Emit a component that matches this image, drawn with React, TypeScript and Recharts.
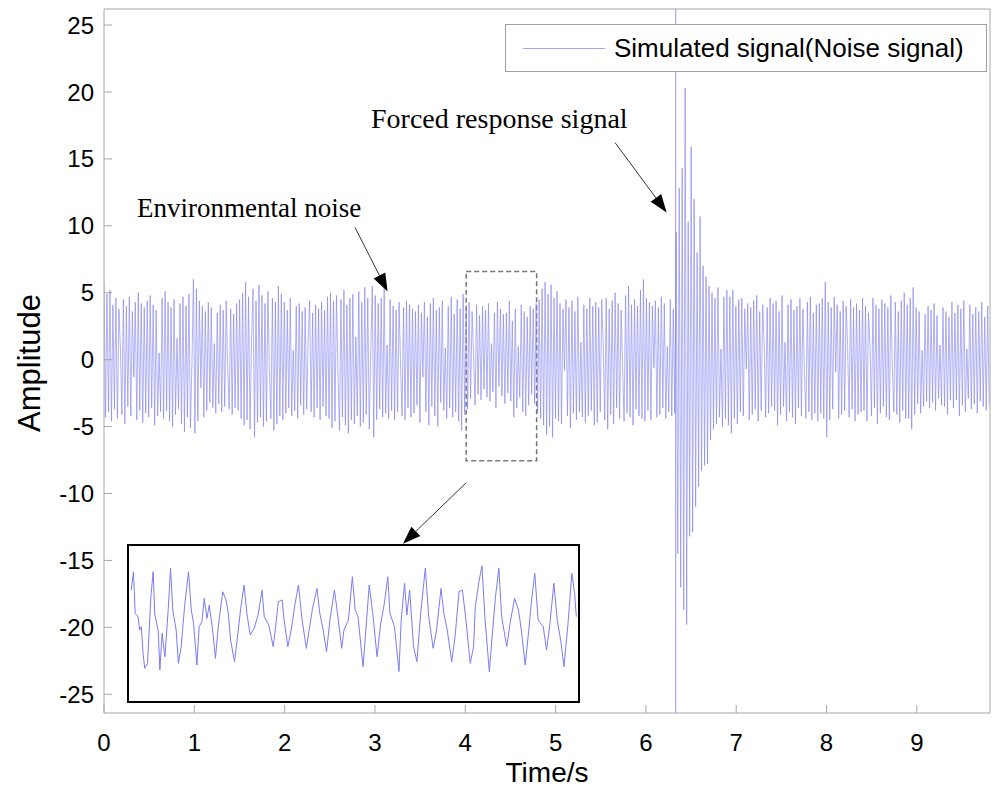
import React from 'react';
import {
  LineChart,
  Line,
  XAxis,
  YAxis,
  ReferenceLine,
  ReferenceArea,
  Legend,
} from 'recharts';

// sampling step of the simulated record (s)
const DT = 0.0165;

// amplitude, one value per sample (30 samples ~ 0.5 s per row)
const signal = [
  5.8, -4.3, 4.9, -3.9, 5.2, -4.6, 4.1, -3.7, 4.6, -4.4, 3.8, 0.9, -4.1, 4.5, -4.8, 4.0, -3.5, 4.7, -4.2, 3.6, -1.3, 4.3, -4.5, 5.0, -3.8, 4.2, -4.7, 3.9, -4.0, 4.4,
  -4.3, 4.8, -3.6, 4.1, -4.9, 3.7, -4.2, 0.5, -3.9, 4.6, -4.4, 5.1, -3.8, 4.3, -4.6, 3.9, -5.0, 4.5, -4.1, 1.6, -3.7, 4.2, -4.8, 4.7, -5.4, 4.0, -4.3, 4.9, -5.1, -0.4,
  6.0, -5.5, 5.3, -4.6, 4.4, -2.1, 4.0, -4.3, 3.6, -3.8, 4.3, -3.2, 3.9, -3.6, 1.2, -4.0, 3.5, -3.3, 4.1, -3.9, 3.7, -3.5, 4.4, -0.6, -3.7, 3.8, -4.1, 3.4, -3.6, 4.2,
  -3.8, 4.5, -4.4, 5.0, -4.9, 5.8, -4.5, 4.7, -5.2, 1.4, 5.3, -5.8, 4.4, -4.7, 5.6, -4.3, 4.8, -5.0, 4.2, -4.6, 5.1, -0.8, -4.4, 4.6, -5.3, 4.3, -4.8, 5.5, -4.2, 4.9,
  -4.5, 4.3, -4.0, 3.7, -3.6, 4.6, -4.2, 0.7, -3.8, 4.0, -4.4, 4.2, -3.4, 3.6, -4.1, 3.9, -3.7, 1.5, 4.4, -3.9, 3.5, -4.3, 4.1, -3.6, 3.8, -4.5, 4.3, -3.5, 3.7, -4.2,
  4.7, -4.4, 5.0, -5.1, 4.4, -4.6, 4.8, -0.9, -5.3, 4.5, -4.3, 5.2, -4.9, 4.1, -5.5, 4.6, -4.5, 4.9, -4.8, 1.7, -4.2, 5.1, -5.0, 4.3, -4.7, 5.4, -4.1, 4.6, -5.2, 0.6,
  5.5, -5.8, 4.8, -4.5, 4.2, -3.7, 4.6, -4.3, 5.3, -4.0, 1.1, -4.4, 4.5, -3.8, 4.0, -4.5, 3.7, -3.9, 4.3, -0.4, -4.2, 3.9, -4.5, 4.4, -3.6, 4.1, -4.3, 3.8, -4.0, 3.6,
  -3.4, 4.1, -4.7, 3.5, -1.3, 4.3, -3.9, 3.2, -4.9, 4.2, -3.5, 4.6, -4.2, 3.7, -5.0, 3.9, -3.2, 4.4, -3.8, 0.9, -4.4, 4.0, -3.6, 4.7, -4.3, 3.4, -3.9, 4.5, -4.6, 3.8,
  -5.3, 4.9, -4.1, 3.9, -3.7, 4.3, -2.9, 3.6, 0.3, -3.4, 4.1, -2.6, 3.3, -3.0, 4.0, -2.2, 3.7, -2.8, 4.2, -3.1, 1.2, -2.4, 3.5, -3.6, 4.3, -2.0, 3.8, -2.7, 3.4, -3.3,
  3.5, -2.5, 4.4, -3.1, 2.9, -4.3, 3.8, -3.6, 1.0, -2.8, 4.1, -3.9, 3.6, -4.2, 3.2, -3.4, 4.0, -2.6, 3.8, -3.3, 4.2, -4.0, 4.5, -4.4, 5.3, -4.9, 5.8, -5.6, 4.9, -5.0,
  5.6, -5.8, 4.6, -4.4, 5.1, -4.6, 4.2, -4.8, 3.8, -0.8, 4.5, -4.2, 3.9, -5.1, 4.4, -4.0, 3.6, -4.5, 4.7, -3.9, 1.3, -4.3, 4.1, -4.7, 3.8, -4.2, 4.6, -3.8, 4.0, -4.9,
  4.3, -4.7, 3.9, -3.9, 4.5, 1.1, -4.5, 4.6, -5.2, 3.8, -4.1, 4.4, -4.8, 5.0, -3.6, 4.2, -4.4, 3.7, -0.5, -4.6, 4.8, -4.0, 5.5, -4.3, 4.1, -4.9, 4.5, -3.7, 4.0, -4.2,
  // forced response begins at ~6.33 s
  5.2, -4.4, 6.0, -4.6, 4.6, -3.8, 4.3, -4.5, 4.0, -0.6, 4.4, -4.3, 3.9, -4.1, 4.7, -3.6, 4.2, -4.4, 1.0, -3.9, 4.5, -4.2, 3.8, -4.0, 9.5, -14.5, 12.8, -17.0, 14.3, -18.7,
  20.3, -19.8, 10.3, -13.2, 15.9, -12.9, 12.0, -11.0, 8.0, -9.5, 10.7, -8.3, 7.0, -7.9, 6.2, -7.8, 5.5, -6.0, 5.0, -5.2, 4.6, -4.8, 5.4, -4.3, 0.8, -5.0, 4.7, -4.4, 5.2, -4.9,
  4.7, -5.5, 5.2, -4.4, 4.0, -4.8, 4.5, -3.9, 4.6, -4.2, 3.8, -0.7, 4.2, -4.5, 3.9, -4.1, 4.4, -3.7, 4.8, -4.6, 3.6, -3.8, 4.1, 1.2, -4.3, 3.9, -4.0, 4.6, -3.5, 4.2,
  -3.8, 4.4, -4.9, 3.6, -4.1, 4.8, -3.5, 1.3, -4.6, 4.1, -3.9, 4.5, -4.3, 3.7, -4.8, 4.0, -3.6, 4.6, -4.2, 3.8, -0.9, -4.4, 4.3, -3.9, 4.7, -4.5, 3.5, -4.0, 4.1, -4.6,
  4.2, -4.0, 4.6, -4.4, 5.8, -5.8, 4.3, -4.5, 3.9, -3.7, 4.7, -0.9, 4.1, -4.4, 3.6, -4.1, 4.4, -3.8, 4.0, 1.0, -4.3, 4.5, -3.7, 3.9, -4.6, 4.2, -4.1, 3.7, -3.9, 4.6,
  -3.8, 4.0, -4.6, 3.5, 1.1, -4.2, 4.6, -3.6, 4.1, -4.8, 3.8, -4.0, 4.5, -3.5, 4.2, -4.3, 3.9, -4.5, 4.8, -0.6, -3.9, 4.3, -4.1, 3.6, -4.7, 4.4, -3.8, 5.0, -4.4, 4.1,
  -4.4, 4.6, -5.2, 5.4, -4.1, 3.9, -3.3, 3.6, -4.0, 0.7, -3.5, 3.4, -3.1, 4.0, -3.6, 3.7, -3.2, 4.2, -3.8, 3.3, -2.9, 1.1, -3.4, 3.9, -3.5, 3.6, -4.1, 3.2, -3.0, 4.3,
  -3.6, 3.5, -3.0, 4.1, -4.2, 3.8, -3.4, 4.4, -3.9, 0.8, -2.9, 4.1, -3.7, 3.4, -3.3, 3.9, -4.0, 3.6, -3.1, 4.3, -3.5, 3.2, -3.8, 4.0, -3.4,
];

// zoomed window 4.0 - 4.8 s (time in ms from the window start)
const insetT = [
  4, 8, 11, 16, 19, 22, 25, 28, 33, 39, 43, 46, 52, 55, 59, 64, 70, 74, 78, 84,
  88, 93, 99, 106, 111, 115, 121, 125, 130, 134, 139, 143, 149, 154, 159, 167, 173, 177, 181, 188,
  194, 199, 205, 210, 216, 223, 230, 237, 241, 249, 257, 262, 266, 273, 276, 283, 289, 296, 302, 308,
  316, 321, 327, 335, 340, 346, 352, 358, 366, 373, 379, 383, 391, 398, 403, 408, 417, 422, 428, 435,
  442, 448, 455, 461, 465, 473, 481, 485, 491, 495, 500, 507, 513, 520, 528, 534, 542, 548, 556, 561,
  567, 575, 581, 588, 594, 600, 608, 614, 617, 624, 629, 634, 642, 648, 653, 659, 664, 673, 679, 687,
  694, 699, 706, 712, 717, 723, 729, 738, 744, 750, 757, 763, 770, 775, 782, 789, 794, 797,
];
const insetV = [
  2.63, 4.29, 0.52, 0.22, -0.99, -0.69, -3.1, -4.46, -4.01, 2.03, 4.29, 0.37, -0.99, -4.61, -1.29, -3.41, 0.97, 4.6, 0.82, -0.99,
  -4.01, -2.5, 1.12, 4.29, 0.82, -0.39, -4.16, -0.69, -0.23, 1.88, 0.07, 1.27, -0.99, -3.56, -0.69, 2.48, 1.73, 0.52, -1.9, -3.86,
  -1.29, 0.97, 3.09, 0.52, -1.44, -0.84, 0.37, 2.63, 0.22, -0.54, -2.5, -0.39, 1.58, 1.73, 0.07, -2.5, -0.99, 1.43, 3.09, 0.07,
  -2.65, -0.99, 0.97, 2.78, 0.52, -0.99, -2.95, -0.08, 2.63, -0.08, -2.65, -0.99, -0.08, 3.84, 0.82, 0.22, -4.31, -0.99, 3.09, 0.22,
  -3.41, -0.54, 1.43, 3.84, 0.52, -0.69, -4.76, -0.08, 3.24, 0.37, 2.63, -2.5, -3.86, 0.67, 4.6, 0.22, -2.65, -0.99, 2.78, 0.52,
  -0.99, -3.86, -1.59, 2.48, 2.63, 0.07, -4.01, -2.5, 1.12, 3.54, 4.81, 0.22, -4.76, -0.99, 2.03, 4.6, 0.22, -2.5, -0.39, 1.88,
  0.82, -0.99, -4.16, -1.14, 1.58, 4.14, -0.08, -0.69, -2.8, -0.39, 3.24, -0.08, -2.2, -4.31, -0.54, 4.14, 2.33, 0.22,
];

const xTicks = [0, 1, 2, 3, 4, 5, 6, 7, 8, 9];
const yTicks = [25, 20, 15, 10, 5, 0, -5, -10, -15, -20, -25];

const FORCED_START = 6.33; // s, start of forced response
const ZOOM_WINDOW = { x1: 4.01, x2: 4.79, y1: -7.55, y2: 6.58 };

const mainData = signal.map((v, i) => ({ t: +(i * DT).toFixed(4), v }));
const insetData = insetT.map((t, i) => ({ t, v: insetV[i] }));

const BLUE = '#7c7cf0';
const AXIS = '#a6a6a6';
const SANS = 'Arial, "Liberation Sans", sans-serif';
const SERIF = '"Times New Roman", "Liberation Serif", serif';

function Arrow(props: any) {
  const { x1, y1, x2, y2 } = props;
  const dx = x2 - x1;
  const dy = y2 - y1;
  const len = Math.sqrt(dx * dx + dy * dy) || 1;
  const ux = dx / len;
  const uy = dy / len;
  const hl = 18;
  const hw = 6.5;
  const bx = x2 - ux * hl;
  const by = y2 - uy * hl;
  const pts = `${x2},${y2} ${bx - uy * hw},${by + ux * hw} ${bx + uy * hw},${by - ux * hw}`;
  return (
    <g>
      <line x1={x1} y1={y1} x2={bx} y2={by} stroke="#333" strokeWidth={1} />
      <polygon points={pts} fill="#000" />
    </g>
  );
}

function LegendBox() {
  return (
    <div
      style={{
        width: 482,
        height: 48,
        boxSizing: 'border-box',
        border: '1px solid #a0a0a0',
        background: '#fff',
        display: 'flex',
        alignItems: 'center',
        fontFamily: SANS,
        fontSize: 26,
        color: '#000',
      }}
    >
      <span style={{ display: 'inline-block', width: 82, height: 0, borderTop: `1px solid ${BLUE}`, marginLeft: 17, marginRight: 9, opacity: 0.7 }} />
      <span>Simulated signal(Noise signal)</span>
    </div>
  );
}

export default function App() {
  return (
    <div style={{ position: 'absolute', left: 0, top: 0, width: 992, height: 795, background: '#fff', overflow: 'hidden' }}>
      <LineChart width={992} height={795} data={mainData} margin={{ top: 7, right: 0, bottom: 22, left: 24 }}>
        <XAxis
          xAxisId="b"
          dataKey="t"
          type="number"
          domain={[0, 9.81]}
          ticks={xTicks}
          allowDataOverflow
          height={60}
          tickSize={-8}
          tickMargin={29}
          axisLine={{ stroke: AXIS }}
          tickLine={{ stroke: AXIS }}
          tick={{ fill: '#000', fontSize: 24, fontFamily: SANS }}
        />
        <XAxis
          xAxisId="t"
          orientation="top"
          dataKey="t"
          type="number"
          domain={[0, 9.81]}
          ticks={xTicks}
          allowDataOverflow
          height={2}
          tickSize={-8}
          tick={false}
          axisLine={{ stroke: AXIS }}
          tickLine={{ stroke: AXIS }}
        />
        <YAxis
          yAxisId="l"
          type="number"
          domain={[-26.4, 26.2]}
          ticks={yTicks}
          allowDataOverflow
          width={80}
          tickSize={-8}
          tickMargin={18}
          axisLine={{ stroke: AXIS }}
          tickLine={{ stroke: AXIS }}
          tick={{ fill: '#000', fontSize: 24, fontFamily: SANS }}
        />
        <YAxis
          yAxisId="r"
          orientation="right"
          type="number"
          domain={[-26.4, 26.2]}
          ticks={yTicks}
          allowDataOverflow
          width={2}
          tickSize={-8}
          tick={false}
          axisLine={{ stroke: AXIS }}
          tickLine={{ stroke: AXIS }}
        />
        <ReferenceLine xAxisId="b" yAxisId="l" x={FORCED_START} stroke={BLUE} strokeOpacity={0.8} strokeWidth={1} />
        <Line
          xAxisId="b"
          yAxisId="l"
          type="linear"
          dataKey="v"
          stroke={BLUE}
          strokeWidth={0.6}
          dot={false}
          isAnimationActive={false}
          name="Simulated signal(Noise signal)"
        />
        <ReferenceArea
          xAxisId="b"
          yAxisId="l"
          x1={ZOOM_WINDOW.x1}
          x2={ZOOM_WINDOW.x2}
          y1={ZOOM_WINDOW.y1}
          y2={ZOOM_WINDOW.y2}
          fill="none"
          fillOpacity={0}
          stroke="#777"
          strokeWidth={1.5}
          strokeDasharray="5 3"
        />
        <ReferenceLine xAxisId="b" yAxisId="l" segment={[{ x: 2.78, y: 9.87 }, { x: 3.14, y: 5.09 }]} shape={Arrow} />
        <ReferenceLine xAxisId="b" yAxisId="l" segment={[{ x: 5.66, y: 16.2 }, { x: 6.23, y: 11.0 }]} shape={Arrow} />
        <ReferenceLine xAxisId="b" yAxisId="l" segment={[{ x: 4.01, y: -9.2 }, { x: 3.31, y: -13.76 }]} shape={Arrow} />
        <Legend
          layout="horizontal"
          verticalAlign="middle"
          align="center"
          wrapperStyle={{ left: 505, top: 24, width: 482, height: 48 }}
          content={() => <LegendBox />}
        />
      </LineChart>

      <div style={{ position: 'absolute', left: 137, top: 195, fontFamily: SERIF, fontSize: 27, lineHeight: '27px', whiteSpace: 'nowrap' }}>
        Environmental noise
      </div>
      <div style={{ position: 'absolute', left: 371, top: 105, fontFamily: SERIF, fontSize: 28, lineHeight: '28px', whiteSpace: 'nowrap' }}>
        Forced response signal
      </div>
      <div
        style={{
          position: 'absolute',
          left: 30,
          top: 363,
          transform: 'translate(-50%, -50%) rotate(-90deg)',
          fontFamily: SANS,
          fontSize: 31,
          whiteSpace: 'nowrap',
        }}
      >
        Amplitude
      </div>
      <div
        style={{
          position: 'absolute',
          left: 547,
          top: 773,
          transform: 'translate(-50%, -50%)',
          fontFamily: SANS,
          fontSize: 28,
          whiteSpace: 'nowrap',
        }}
      >
        Time/s
      </div>

      <div
        style={{
          position: 'absolute',
          left: 127,
          top: 544,
          width: 453,
          height: 159,
          boxSizing: 'border-box',
          border: '2px solid #000',
          background: '#fff',
        }}
      >
        <LineChart width={449} height={155} data={insetData} margin={{ top: 0, right: 0, bottom: 0, left: 0 }}>
          <XAxis dataKey="t" type="number" domain={[0, 800]} hide />
          <YAxis type="number" domain={[-7.42, 6.62]} hide />
          <Line type="linear" dataKey="v" stroke={BLUE} strokeWidth={1} dot={false} isAnimationActive={false} />
        </LineChart>
      </div>
    </div>
  );
}
